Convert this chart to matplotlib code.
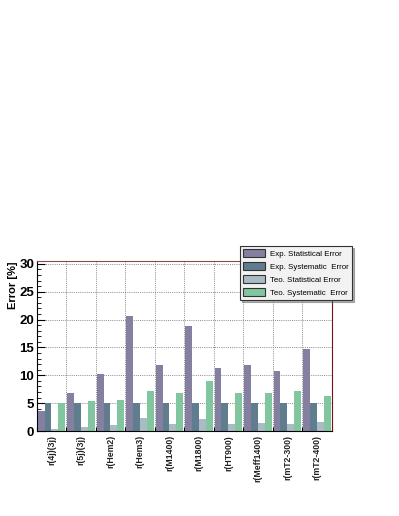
import numpy as np
import matplotlib
matplotlib.use('Agg')
import matplotlib.pyplot as plt
from matplotlib.patches import Patch
from matplotlib.ticker import MultipleLocator

plt.rcParams['font.family'] = ['Liberation Sans', 'DejaVu Sans']

categories = ['r(4j)(3j)', 'r(5j)(3j)', 'r(Hem2)', 'r(Hem3)', 'r(M1400)',
              'r(M1800)', 'r(HT900)', 'r(Meff1400)', 'r(mT2-300)', 'r(mT2-400)']
exp_stat = [3.6, 6.8, 10.3, 20.6, 11.8, 18.8, 11.4, 11.9, 10.7, 14.8]
exp_sys = [5.0, 5.0, 5.0, 5.0, 5.0, 5.0, 5.0, 5.0, 5.0, 5.0]
teo_stat = [0.3, 0.7, 1.1, 2.3, 1.3, 2.1, 1.3, 1.4, 1.2, 1.7]
teo_sys = [5.0, 5.4, 5.5, 7.1, 6.8, 9.0, 6.8, 6.8, 7.2, 6.3]

series = [
    ('Exp. Statistical Error', exp_stat, '#857fa0'),
    ('Exp. Systematic  Error', exp_sys, '#5f7d8f'),
    ('Teo. Statistical Error', teo_stat, '#a9bcc6'),
    ('Teo. Systematic  Error', teo_sys, '#82c6a0'),
]

dpi = 100
fig = plt.figure(figsize=(399 / dpi, 516 / dpi), dpi=dpi)
ax = fig.add_axes([0.0927, 0.1647, 0.7393, 0.3293])

x = np.arange(len(categories))
width = 0.235
for i, (label, vals, color) in enumerate(series):
    ax.bar(x + 0.02 + i * width, vals, width=width, align='edge',
           color=color, edgecolor='none', zorder=2)

ax.set_xlim(0, len(categories))
ax.set_ylim(0, 30.5)
ax.set_xticks(np.arange(len(categories) + 1))
ax.set_xticklabels([])
ax.set_xticks(x + 0.5, minor=True)
ax.set_xticklabels(categories, minor=True, rotation=90, fontsize=6.3,
                   fontweight='bold', color='#222222')
ax.tick_params(axis='x', which='minor', length=0, pad=3)
ax.tick_params(axis='x', which='major', length=3, direction='in')

ax.yaxis.set_major_locator(MultipleLocator(5))
ax.yaxis.set_minor_locator(MultipleLocator(1))
ax.tick_params(axis='y', which='major', direction='in', length=6,
               labelsize=9.5, pad=2)
ax.tick_params(axis='y', which='minor', direction='in', length=3)
for t in ax.get_yticklabels():
    t.set_fontweight('bold')

ax.grid(True, which='major', color='#8a8a8a', linestyle=(0, (1, 1.2)),
        linewidth=0.7, zorder=0)
ax.set_axisbelow(True)

ax.set_ylabel('Error [%]', fontsize=8, fontweight='bold', loc='top',
              labelpad=1)

ax.spines['top'].set_color('#8b4a4a')
ax.spines['right'].set_color('#7a1010')
ax.spines['left'].set_color('black')
ax.spines['bottom'].set_color('black')

handles = [Patch(facecolor=c, edgecolor='#333333', linewidth=0.8, label=l)
           for l, _, c in series]
leg = fig.legend(handles=handles, loc='upper left',
                 bbox_to_anchor=(0.601, 0.524), fontsize=5.7,
                 frameon=True, fancybox=False,
                 shadow={'ox': 1.5, 'oy': -1.5, 'color': '#666666'},
                 edgecolor='#333333', facecolor='#f2f2f2',
                 handlelength=2.8, handleheight=1.3, labelspacing=0.5,
                 borderpad=0.4, handletextpad=0.6, borderaxespad=0)
leg.get_frame().set_linewidth(0.8)

fig.savefig('out.png', dpi=dpi)
